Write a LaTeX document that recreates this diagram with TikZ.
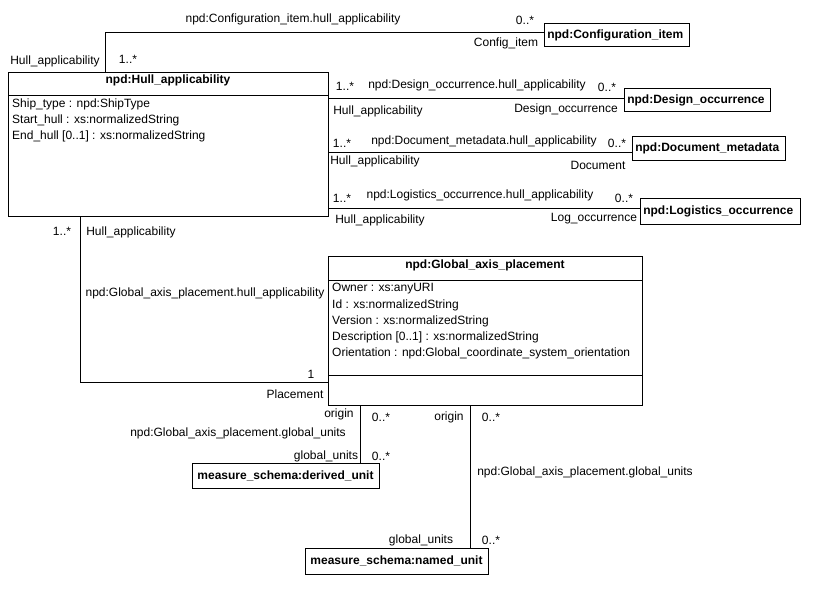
\documentclass[tikz,border=0pt]{standalone}
\usepackage{fontspec}
\setmainfont{Liberation Sans}
\usetikzlibrary{positioning}
\tikzstyle{classBox}=[draw,semithick,inner sep=2pt,font=\bfseries\fontsize{12}{13}\selectfont]
\tikzstyle{lbl}=[inner sep=0pt,font=\fontsize{12}{13}\selectfont]
\tikzstyle{assoc}=[thin]

\begin{document}
\begin{tikzpicture}[x=1pt,y=-1pt]
    \useasboundingbox (0,0) rectangle (831,603);

    % Hull_applicability class
    \draw[thin] (8,72) rectangle (328,216);
    \draw[thin] (8,95) -- (328,95);
    \node (hull)[lbl,font=\bfseries\fontsize{12}{13}\selectfont] at (168,80) {npd:Hull\_applicability};
    \node[lbl,anchor=west] at (12,104) {Ship\_type : npd:ShipType};
    \node[lbl,anchor=west] at (12,120) {Start\_hull : xs:normalizedString};
    \node[lbl,anchor=west] at (12,136) {End\_hull [0..1] : xs:normalizedString};
    \coordinate (hullTop) at (105,72);
    \coordinate (hullBot) at (80,216);

    % Global_axis_placement class
    \draw[thin] (328,256) rectangle (642,405);
    \draw[thin] (328,280) -- (642,280);
    \draw[thin] (328,375) -- (642,375);
    \node (gap)[lbl,font=\bfseries\fontsize{12}{13}\selectfont] at (485,265) {npd:Global\_axis\_placement};
    \node[lbl,anchor=west] at (332,289) {Owner : xs:anyURI};
    \node[lbl,anchor=west] at (332,305) {Id : xs:normalizedString};
    \node[lbl,anchor=west] at (332,321) {Version : xs:normalizedString};
    \node[lbl,anchor=west] at (332,337) {Description [0..1] : xs:normalizedString};
    \node[lbl,anchor=west] at (332,353) {Orientation : npd:Global\_coordinate\_system\_orientation};

    % other classes
    \node (config)[classBox,anchor=west,minimum width=145pt,minimum height=23pt,text width=139pt] at (544,35) {npd:Configuration\_item};
    \node (design)[classBox,anchor=west,minimum width=146pt,minimum height=23pt,text width=140pt] at (624,100) {npd:Design\_occurrence};
    \node (docmeta)[classBox,anchor=west,minimum width=153pt,minimum height=24pt,text width=147pt] at (632,148) {npd:Document\_metadata};
    \node (logocc)[classBox,anchor=west,minimum width=160pt,minimum height=26pt,text width=154pt] at (640,211) {npd:Logistics\_occurrence};
    \node (derived)[classBox,minimum width=187pt,minimum height=25pt] at (285.5,475.5) {measure\_schema:derived\_unit};
    \node (named)[classBox,minimum width=183pt,minimum height=26pt] at (396.5,561) {measure\_schema:named\_unit};

    % associations
    \draw[assoc] (hullTop) |- (config.west |- 0,32);
    \node[lbl] at (293,19) {npd:Configuration\_item.hull\_applicability};
    \node[lbl] at (525,20) {0..*};
    \node[lbl] at (506,43) {Config\_item};
    \node[lbl] at (55,61) {Hull\_applicability};
    \node[lbl] at (128,59) {1..*};

    \draw[assoc] (328,98) -- (design.west |- 0,98);
    \node[lbl] at (345,86) {1..*};
    \node[lbl] at (477,85) {npd:Design\_occurrence.hull\_applicability};
    \node[lbl] at (607,87) {0..*};
    \node[lbl] at (378,111) {Hull\_applicability};
    \node[lbl] at (566,109) {Design\_occurrence};

    \draw[assoc] (328,152) -- (docmeta.west |- 0,152);
    \node[lbl] at (342,143) {1..*};
    \node[lbl] at (484,141) {npd:Document\_metadata.hull\_applicability};
    \node[lbl] at (617,143) {0..*};
    \node[lbl] at (375,161) {Hull\_applicability};
    \node[lbl] at (598,165) {Document};

    \draw[assoc] (328,208) -- (logocc.west |- 0,208);
    \node[lbl] at (342,198) {1..*};
    \node[lbl] at (480,195) {npd:Logistics\_occurrence.hull\_applicability};
    \node[lbl] at (624,198) {0..*};
    \node[lbl] at (380,220) {Hull\_applicability};
    \node[lbl] at (594,219) {Log\_occurrence};

    \draw[assoc] (hullBot) |- (328,382);
    \node[lbl] at (62,231) {1..*};
    \node[lbl] at (131,232) {Hull\_applicability};
    \node[lbl] at (205,293) {npd:Global\_axis\_placement.hull\_applicability};
    \node[lbl] at (311,374) {1};
    \node[lbl] at (295,394) {Placement};

    \draw[assoc] (360,405) -- (derived.north -| 360,0);
    \node[lbl] at (339,414) {origin};
    \node[lbl] at (381,417) {0..*};
    \node[lbl] at (238,433) {npd:Global\_axis\_placement.global\_units};
    \node[lbl] at (326,456) {global\_units};
    \node[lbl] at (381,456) {0..*};

    \draw[assoc] (470,405) -- (named.north -| 470,0);
    \node[lbl] at (449,417) {origin};
    \node[lbl] at (491,417) {0..*};
    \node[lbl] at (585,472) {npd:Global\_axis\_placement.global\_units};
    \node[lbl] at (421,540) {global\_units};
    \node[lbl] at (491,540) {0..*};
\end{tikzpicture}
\end{document}
